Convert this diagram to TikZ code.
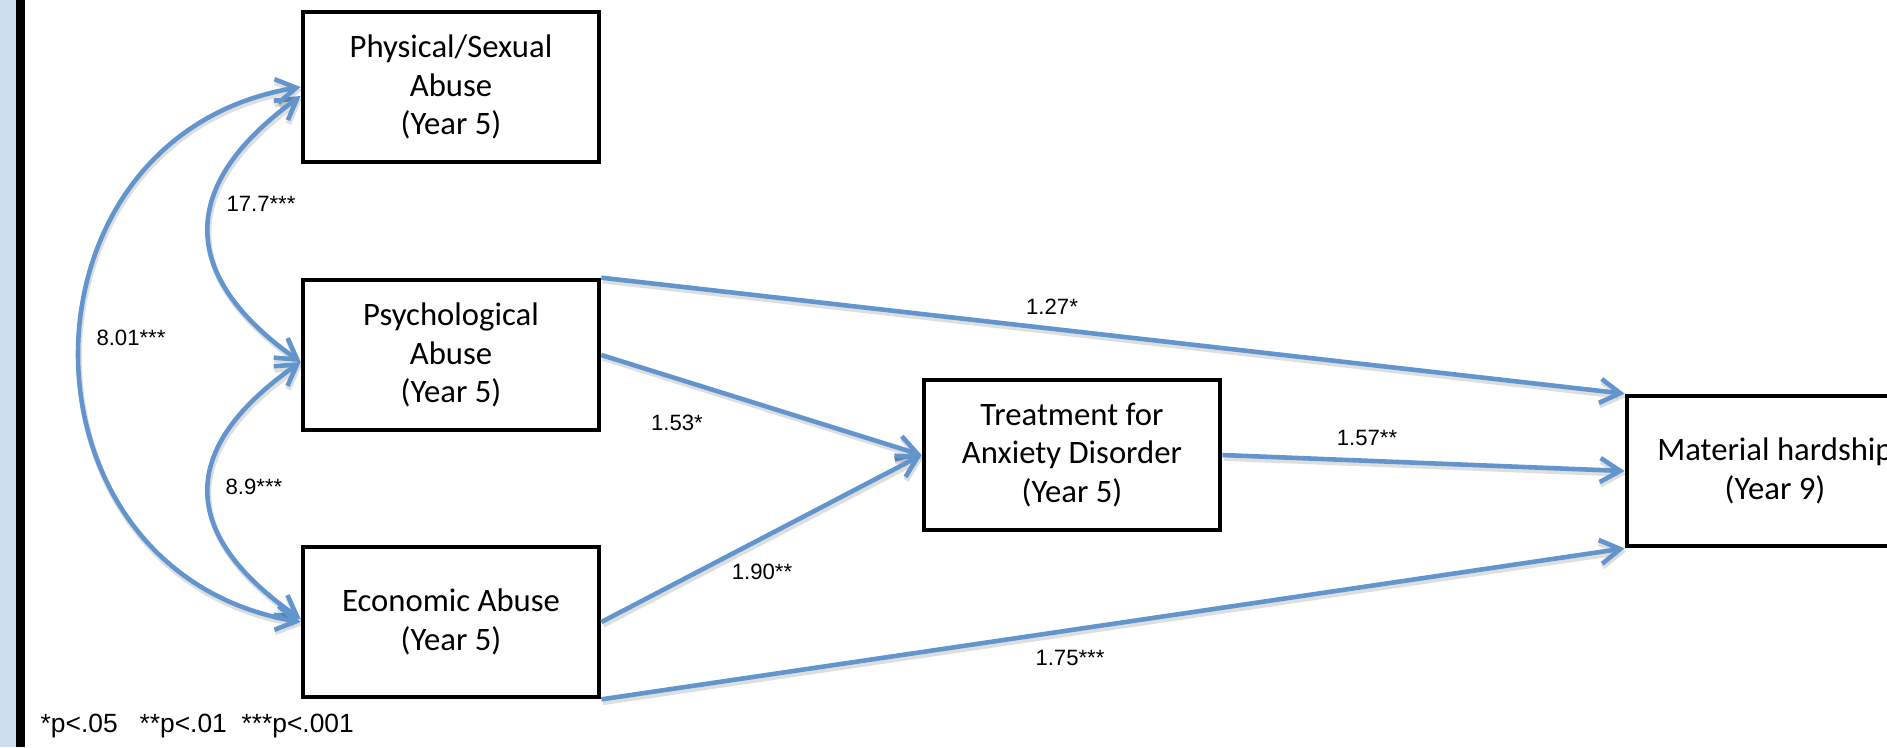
\documentclass[tikz,border=0pt]{standalone}
\usepackage{fontspec}
\setmainfont{Carlito}
\newfontfamily\labelfont{Liberation Sans}
\usetikzlibrary{arrows.meta,calc}
\definecolor{linkblue}{RGB}{98,148,205}
\definecolor{stripblue}{RGB}{205,223,238}
\begin{document}
\begin{tikzpicture}[x=0.01cm,y=-0.01cm,
  box/.style={draw=black, line width=1.3pt, minimum width=2.96cm, minimum height=1.5cm,
    align=center, inner sep=0pt, font=\fontsize{9.3}{11}\selectfont},
  shadowed/.style={preaction={draw=black, draw opacity=0.13, line width=1.6pt,
    transform canvas={shift={(0.015cm,-0.03cm)}}}},
  link/.style={shadowed, draw=linkblue, line width=1.3pt, -{Straight Barb[length=0.2cm,width=0.24cm]}},
  biarrow/.style={shadowed, draw=linkblue, line width=1.3pt,
    {Straight Barb[length=0.2cm,width=0.24cm]}-{Straight Barb[length=0.2cm,width=0.24cm]}},
  est/.style={font=\labelfont\fontsize{6.3}{7}\selectfont, inner sep=0pt},
  note/.style={font=\labelfont\fontsize{7.5}{9}\selectfont, inner sep=0pt, anchor=west}]
\useasboundingbox (0,0) rectangle (1887,747);
\clip (0,0) rectangle (1887,747);
\fill[white] (0,0) rectangle (1887,747);
\fill[stripblue] (0,0) rectangle (16,747);
\fill[black] (16,0) rectangle (25,747);

% boxes
\node[box] (phys) at (451,87) {Physical/Sexual\\Abuse\\(Year 5)};
\node[box] (psych) at (451,355) {Psychological\\Abuse\\(Year 5)};
\node[box] (econ) at (451,622) {Economic Abuse\\(Year 5)};
\node[box] (treat) at (1072,455) {Treatment for\\Anxiety Disorder\\(Year 5)};
\node[box] (mat) at (1775,471) {Material hardship\\(Year 9)};

% anchor points for correlation curves
\coordinate (physA) at ($(phys.west)+(0,9)$);
\coordinate (psychA) at ($(psych.west)+(0,7)$);
\coordinate (econA) at ($(econ.west)+(0,-3)$);

% correlations
\draw[biarrow] (physA) .. controls (178,185) and (178,275) .. (psychA);
\draw[biarrow] (psychA) .. controls (178,448) and (178,533) .. (econA);
\draw[biarrow] (phys.west) .. controls (6,136) and (6,572) .. (econ.west);

% paths
\draw[link] (psych.north east) -- (mat.north west);
\draw[link] (psych.east) -- (treat.west);
\draw[link] (econ.east) -- (treat.west);
\draw[link] (treat.east) -- (mat.west);
\draw[link] (econ.south east) -- (mat.south west);

% estimates
\node[est] (l177) at (261,204) {17.7***};
\node[est] (l801) at (131,338) {8.01***};
\node[est] (l89) at (254,487) {8.9***};
\node[est] (l127) at (1052,307) {1.27*};
\node[est] (l153) at (677,423) {1.53*};
\node[est] (l190) at (762,572) {1.90**};
\node[est] (l157) at (1367,438) {1.57**};
\node[est] (l175) at (1070,658) {1.75***};

\node[note] (footnote) at (40,726) {*p<.05\ \ \ **p<.01\ \ ***p<.001};
\end{tikzpicture}
\end{document}
